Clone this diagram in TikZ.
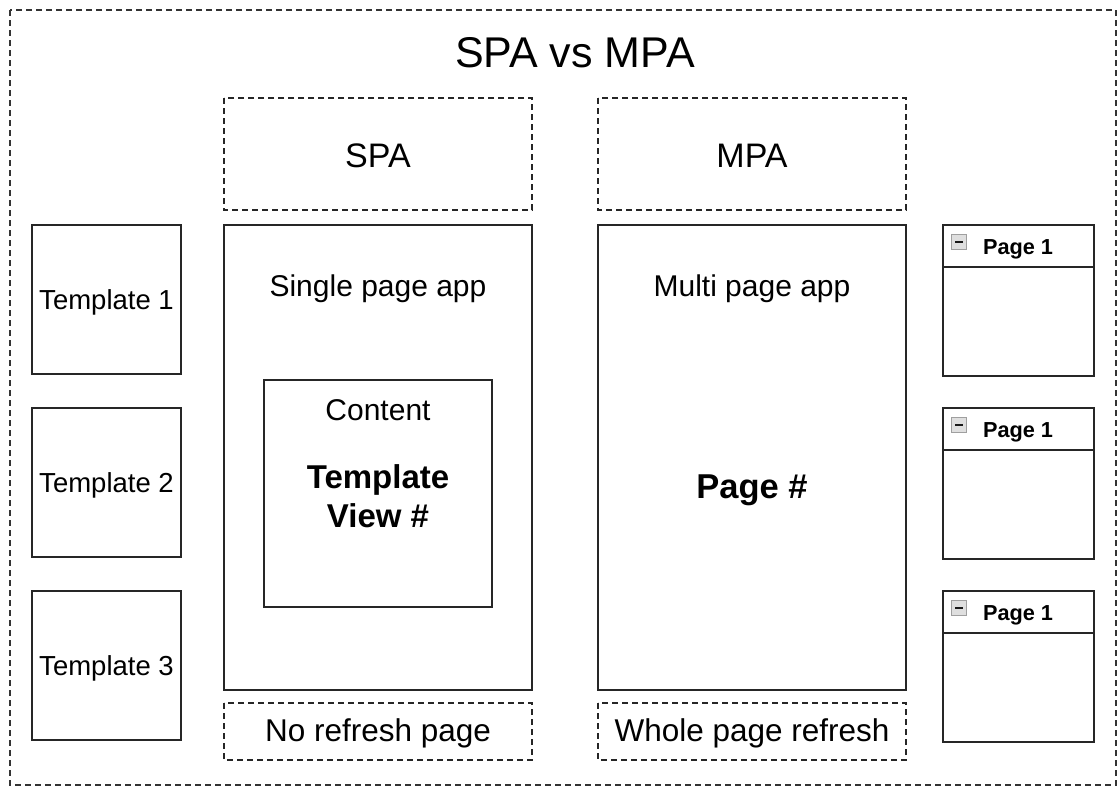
\documentclass[tikz,border=0pt]{standalone}
\usepackage{fontspec}
\setmainfont{Liberation Sans}
\newcommand{\fsz}[1]{\fontsize{#1}{#1}\selectfont}
\begin{document}
\begin{tikzpicture}[x=1pt,y=-1pt,
  solidbox/.style={draw=black!85,line width=1.8pt,fill=white},
  dashbox/.style={draw=black!85,line width=1.6pt,dash pattern=on 6pt off 4pt},
  lbl/.style={inner sep=0pt,anchor=center},
  tplbox/.style={solidbox,minimum width=149pt,minimum height=149pt,inner sep=0pt}
]
\useasboundingbox (0,0) rectangle (1117,787);
% outer frame
\draw[draw=black!80,line width=1.2pt,dash pattern=on 6pt off 4pt] (10,10) rectangle (1116,785);
\node[lbl,font=\fsz{43}] (title) at (575,53) {SPA vs MPA};

% SPA column
\draw[dashbox] (224,98) rectangle (532,210);
\node[lbl,font=\fsz{34}] (spa) at (378,156) {SPA};
\draw[solidbox] (224,225) rectangle (532,690);
\node[lbl,font=\fsz{30}] (spaapp) at (378,289) {Single page app};
\draw[solidbox] (264,380) rectangle (492,607);
\node[lbl,font=\fsz{30}] (content) at (378,410) {Content};
\node[lbl,font=\bfseries\fsz{33},align=center] (tview) at (378,496) {Template\\[6pt]View \#};
\draw[dashbox] (224,703) rectangle (532,760);
\node[lbl,font=\fsz{31.5}] (norefresh) at (378,733) {No refresh page};

% MPA column
\draw[dashbox] (598,98) rectangle (906,210);
\node[lbl,font=\fsz{34}] (mpa) at (752,156) {MPA};
\draw[solidbox] (598,225) rectangle (906,690);
\node[lbl,font=\fsz{30}] (mpaapp) at (752,289) {Multi page app};
\node[lbl,font=\bfseries\fsz{34.5}] (pagenum) at (752,490) {Page \#};
\draw[dashbox] (598,703) rectangle (906,760);
\node[lbl,font=\fsz{31.5}] (wholerefresh) at (752,733) {Whole page refresh};

% templates
\foreach \y/\n in {299.5/1,482.5/2,665.5/3}{
  \node[tplbox] (t\n) at (106.5,\y) {};
  \node[lbl,font=\fsz{27.5}] (tl\n) at (106.5,\y+2.5) {Template \n};
}

% page boxes
\foreach \y/\n in {225/p1,408/p2,591/p3}{
  \draw[solidbox] (943,\y) rectangle (1094,\y+151);
  \draw[black!85,line width=1.8pt] (943,\y+42) -- (1094,\y+42);
  \draw[draw=gray!75,fill=gray!25,line width=1pt] (951.5,\y+9) rectangle (966.5,\y+24);
  \draw[black!90,line width=2pt] (955,\y+16.5) -- (963,\y+16.5);
  \node[lbl,font=\bfseries\fsz{21.7}] (\n) at (1018,\y+24) {Page 1};
}
\end{tikzpicture}
\end{document}
